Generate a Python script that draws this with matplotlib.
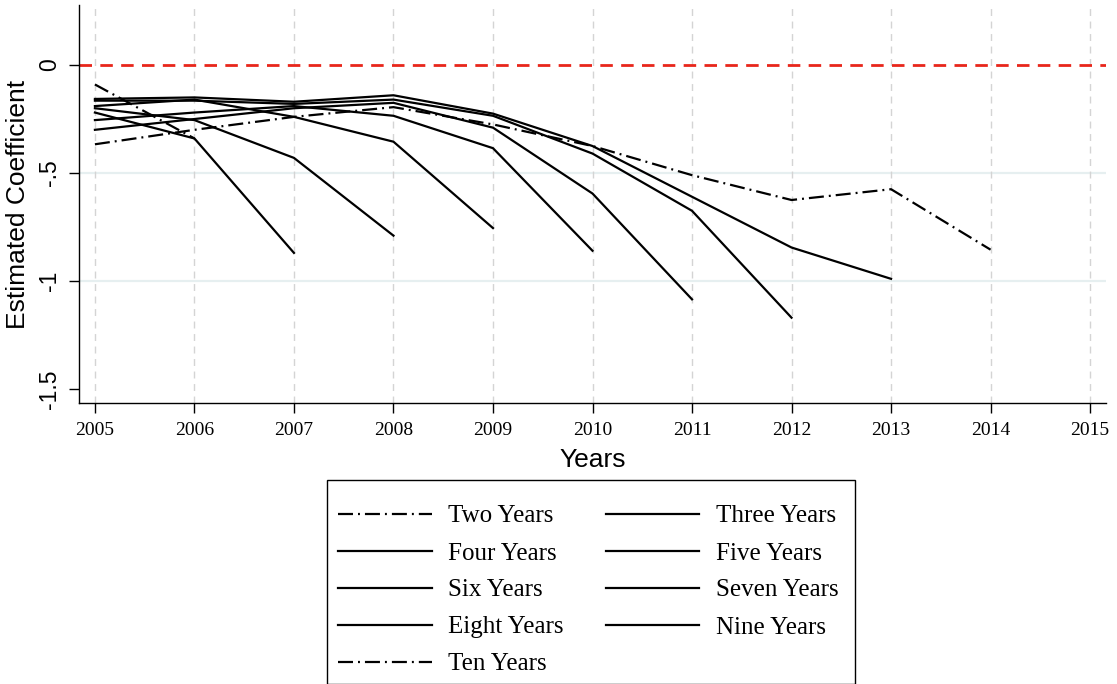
import matplotlib
matplotlib.use("Agg")
import matplotlib.pyplot as plt
from matplotlib.patches import Rectangle
from matplotlib.ticker import FixedLocator

plt.rcParams["lines.scale_dashes"] = False

years = [2005, 2006, 2007, 2008, 2009, 2010, 2011, 2012, 2013, 2014]

series_names = ["Two Years", "Three Years", "Four Years", "Five Years", "Six Years",
                "Seven Years", "Eight Years", "Nine Years", "Ten Years"]

two_years = [-0.09, -0.34]
three_years = [-0.22, -0.34, -0.87]
four_years = [-0.20, -0.255, -0.43, -0.79]
five_years = [-0.19, -0.16, -0.24, -0.355, -0.755]
six_years = [-0.255, -0.22, -0.19, -0.235, -0.385, -0.86]
seven_years = [-0.30, -0.25, -0.20, -0.175, -0.29, -0.595, -1.085]
eight_years = [-0.165, -0.165, -0.18, -0.16, -0.235, -0.41, -0.675, -1.17]
nine_years = [-0.157, -0.15, -0.17, -0.14, -0.225, -0.375, -0.61, -0.845, -0.99]
ten_years = [-0.367, -0.30, -0.24, -0.195, -0.275, -0.375, -0.51, -0.625, -0.575, -0.855]

series_values = [two_years, three_years, four_years, five_years, six_years,
                 seven_years, eight_years, nine_years, ten_years]

xticks = list(range(2005, 2016))
yticks = [0, -0.5, -1, -1.5]
ytick_labels = ["0", "-.5", "-1", "-1.5"]

serif = ["Liberation Serif", "DejaVu Serif"]
sans = ["Liberation Sans", "DejaVu Sans"]
dashdot = (0, (10.8, 3.6, 1.4, 3.6))

W, H = 1117, 684
fig = plt.figure(figsize=(W / 100, H / 100), dpi=100)
ax = fig.add_axes([79 / W, 1 - 403 / H, (1106 - 79) / W, (403 - 5) / H])

# background grid: light horizontal, dashed vertical
for y in [-0.5, -1.0]:
    ax.axhline(y, color="#e6eff0", lw=1.6, zorder=0)
for x in xticks:
    ax.axvline(x, color="#d4d4d4", lw=1.0, ls=(0, (5, 4)), zorder=0)

ax.axhline(0, color="#e8261b", lw=2.0, ls=(0, (9, 6)), zorder=1)

handles = []
for name, vals in zip(series_names, series_values):
    style = dashdot if name in ("Two Years", "Ten Years") else "-"
    (h,) = ax.plot(years[:len(vals)], vals, color="black", lw=1.6, ls=style,
                   label=name, zorder=2)
    handles.append(h)

ax.set_xlim(2004.84, 2015.16)
ax.set_ylim(-1.565, 0.278)

for side in ("top", "right"):
    ax.spines[side].set_visible(False)
ax.spines["left"].set_linewidth(1.0)
ax.spines["bottom"].set_linewidth(1.0)

ax.xaxis.set_major_locator(FixedLocator(xticks))
ax.set_xticklabels([str(x) for x in xticks], fontfamily=serif, fontsize=14)
ax.yaxis.set_major_locator(FixedLocator(yticks))
ax.set_yticklabels(ytick_labels, fontfamily=sans, fontsize=16.5, rotation=90, va="center")
ax.tick_params(axis="both", direction="out", length=7, width=1.0, colors="black")
ax.tick_params(axis="x", pad=7)
ax.tick_params(axis="y", pad=6)

ax.set_xlabel("Years", fontfamily=sans, fontsize=19, labelpad=6)
ax.set_ylabel("Estimated Coefficient", fontfamily=sans, fontsize=19, labelpad=6)

# legend filled row-wise like the original: reorder for column-major layout
order = [0, 2, 4, 6, 8, 1, 3, 5, 7]
leg = fig.legend([handles[i] for i in order], [series_names[i] for i in order],
                 ncol=2, loc="upper left", bbox_to_anchor=(338 / W, 1 - 505 / H),
                 borderaxespad=0, borderpad=0, frameon=False,
                 prop={"family": serif, "size": 18}, handlelength=3.75,
                 handletextpad=0.65, columnspacing=1.68, labelspacing=0.58)

# legend frame, running off the bottom edge as in the original
frame = Rectangle((327 / W, 0), (855 - 327) / W, (H - 480) / H,
                  transform=fig.transFigure, facecolor="none",
                  edgecolor="black", lw=1.0, clip_on=False)
fig.patches.append(frame)

fig.savefig("out.png", dpi=100)
